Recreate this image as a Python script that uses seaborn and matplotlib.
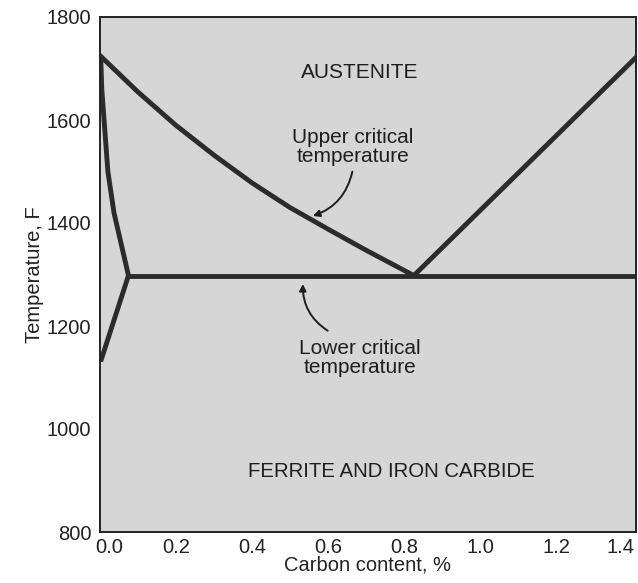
import numpy as np
import pandas as pd
import matplotlib
matplotlib.use("Agg")
import matplotlib.pyplot as plt
import matplotlib.transforms as mtransforms
import seaborn as sns

# Iron-carbon (steel) region of the phase diagram, temperatures in deg F
upper_carbon = [0.0, 0.1, 0.2, 0.3, 0.4, 0.5, 0.6, 0.7, 0.825]
upper_temp = [1726, 1655, 1590, 1532, 1478, 1430, 1388, 1347, 1298]

acm_carbon = [0.825, 1.41]
acm_temp = [1298, 1723]

lower_carbon = [0.076, 1.41]
lower_temp = [1298, 1298]

ferrite_upper_carbon = [0.003, 0.006, 0.012, 0.022, 0.038, 0.076]
ferrite_upper_temp = [1726, 1660, 1600, 1500, 1420, 1298]

ferrite_lower_carbon = [0.076, 0.003]
ferrite_lower_temp = [1298, 1131]

x_ticks = [0.0, 0.2, 0.4, 0.6, 0.8, 1.0, 1.2, 1.4]
y_ticks = [800, 1000, 1200, 1400, 1600, 1800]

sns.set_theme(style="white")
plt.rcParams["font.family"] = ["Liberation Sans", "DejaVu Sans"]

fig = plt.figure(figsize=(6.38, 5.83), dpi=100)
ax = fig.add_axes([99.5 / 638, 1 - 532 / 583, (636 - 99.5) / 638, (532 - 17) / 583])
ax.set_facecolor("#d6d6d6")

line_color = "#2b2b2b"
segments = [
    (upper_carbon, upper_temp),
    (acm_carbon, acm_temp),
    (lower_carbon, lower_temp),
    (ferrite_upper_carbon, ferrite_upper_temp),
    (ferrite_lower_carbon, ferrite_lower_temp),
]
for cx, ty in segments:
    df = pd.DataFrame({"carbon": cx, "temp": ty})
    sns.lineplot(data=df, x="carbon", y="temp", ax=ax, sort=False,
                 color=line_color, linewidth=3.5, solid_capstyle="butt",
                 solid_joinstyle="round", estimator=None)

ax.set_xlim(0.0, 1.408)
ax.set_ylim(800, 1800)
ax.set_xticks(x_ticks)
ax.set_xticklabels([f"{v:.1f}" for v in x_ticks])
ax.set_yticks(y_ticks)
ax.set_yticklabels([str(v) for v in y_ticks])
ax.tick_params(axis="both", direction="in", length=8, width=1.2,
               colors="#222222", labelsize=14.5, labelcolor="#222222")
ax.tick_params(axis="x", pad=4)
ax.tick_params(axis="y", pad=6)

# nudge the end x labels off the corners
xlabels = ax.get_xticklabels()
shift_first = mtransforms.ScaledTranslation(10 / 100, 0, fig.dpi_scale_trans)
shift_last = mtransforms.ScaledTranslation(-12 / 100, 0, fig.dpi_scale_trans)
xlabels[0].set_transform(xlabels[0].get_transform() + shift_first)
xlabels[-1].set_transform(xlabels[-1].get_transform() + shift_last)

for s in ax.spines.values():
    s.set_color("#222222")
    s.set_linewidth(1.4)

ax.set_xlabel("Carbon content, %", fontsize=14.5, color="#222222", labelpad=-1)
ax.set_ylabel("Temperature, F", fontsize=14.5, color="#222222", labelpad=2)

txt = dict(ha="center", va="center", fontsize=15, color="#1e1e1e", linespacing=1.0)
ax.text(0.684, 1693, "AUSTENITE", **txt)
ax.text(0.665, 1548, "Upper critical\ntemperature", **txt)
ax.text(0.684, 1138, "Lower critical\ntemperature", **txt)
ax.text(0.765, 917, "FERRITE AND IRON CARBIDE", fontsize=14.7,
        ha="center", va="center", color="#1e1e1e")

ax.annotate("", xy=(0.553, 1412), xytext=(0.665, 1505),
            arrowprops=dict(arrowstyle="-|>", color="#1e1e1e", lw=1.4,
                            mutation_scale=10, connectionstyle="arc3,rad=-0.3"))
ax.annotate("", xy=(0.534, 1287), xytext=(0.605, 1188),
            arrowprops=dict(arrowstyle="-|>", color="#1e1e1e", lw=1.4,
                            mutation_scale=10, connectionstyle="arc3,rad=-0.3"))

fig.savefig("out.png", dpi=100)
